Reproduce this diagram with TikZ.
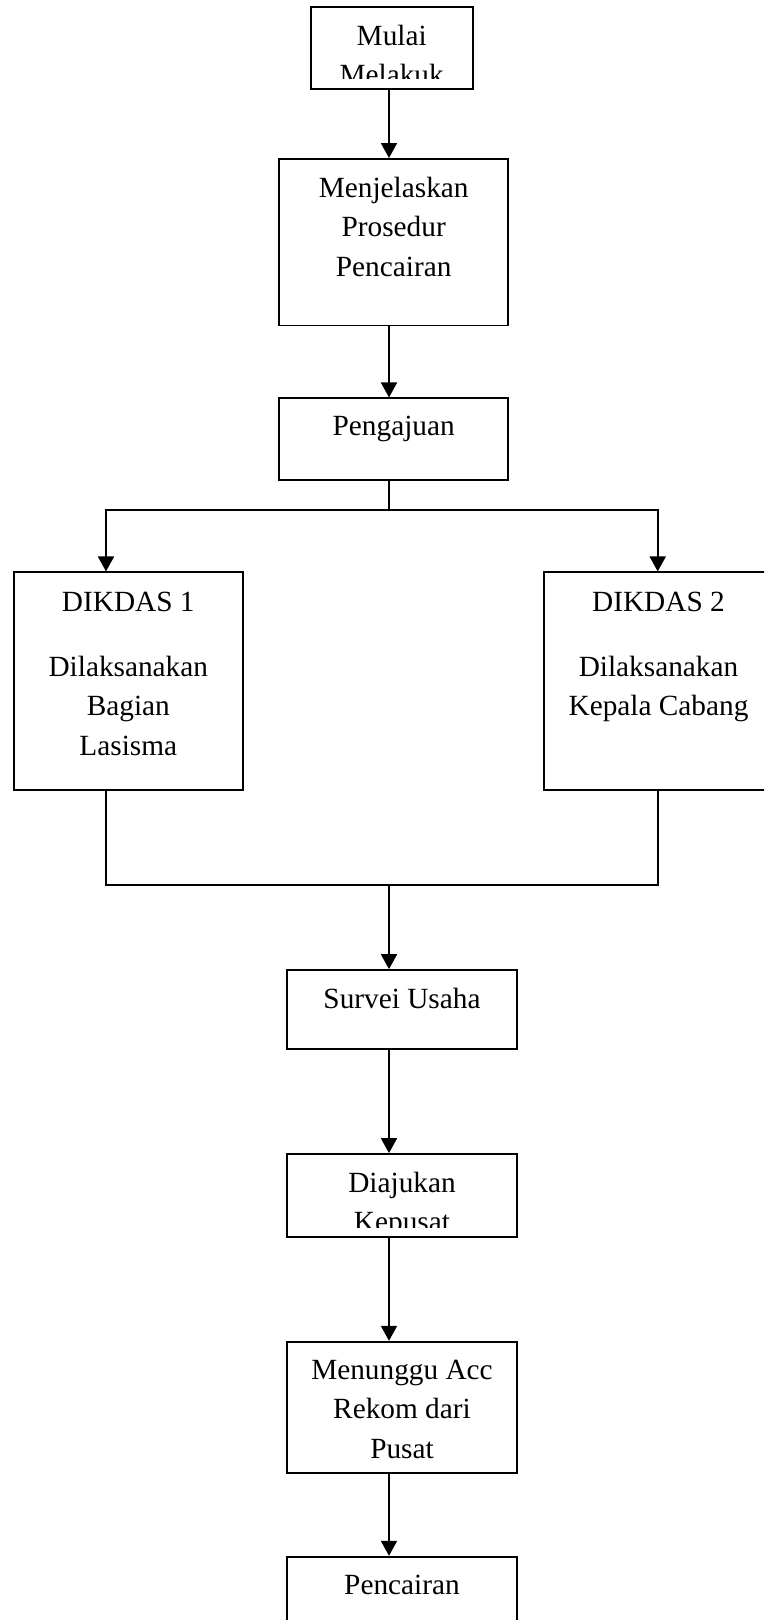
\documentclass[tikz,border=0pt]{standalone}
\usepackage{fontspec}
\setmainfont{Liberation Serif}
\usetikzlibrary{arrows.meta}

\begin{document}
\begin{tikzpicture}[x=1pt,y=-1pt,line width=1.8pt,>={Triangle[length=15pt,width=16pt]},
  box/.style={rectangle,draw,inner sep=0pt,minimum width=229.3pt},
  txt/.style={anchor=north,align=center,inner sep=0pt,font=\fontsize{29.3}{39.5}\selectfont}]

\useasboundingbox (0,0) rectangle (764,1620);
\clip (0,0) rectangle (764,1620);

\node[box,minimum width=162pt,minimum height=82.6pt] (mulai) at (391.7,48) {};
\node[box,minimum height=166.5pt] (jelas) at (393.7,242.2) {};
\node[box,minimum height=81.7pt] (aju) at (393.7,439.2) {};
\node[box,minimum width=228.7pt,minimum height=217.7pt] (dik1) at (128.3,681.2) {};
\node[box,minimum width=229pt,minimum height=217.7pt] (dik2) at (658.5,681.2) {};
\node[box,minimum height=79.3pt] (survei) at (402,1009.7) {};
\node[box,minimum height=83pt] (diaju) at (402,1195.5) {};
\node[box,minimum height=131.6pt] (tunggu) at (402,1407.5) {};
\node[box,minimum height=80.6pt] (cair) at (402,1597) {};

\begin{scope}
  \clip ([yshift=12pt]mulai.south west) rectangle (mulai.north east);
  \node[txt] (mulaiT) at ([yshift=-18pt]mulai.north) {Mulai\\Melakuk};
\end{scope}
\node[txt] (jelasT) at ([yshift=-18pt]jelas.north) {Menjelaskan\\Prosedur\\Pencairan};
\node[txt] (ajuT) at ([yshift=-18pt]aju.north) {Pengajuan};
\node[txt] (dik1T) at ([yshift=-19.5pt]dik1.north) {DIKDAS 1\\[25.5pt]Dilaksanakan\\Bagian\\Lasisma};
\node[txt] (dik2T) at ([yshift=-19.5pt]dik2.north) {DIKDAS 2\\[25.5pt]Dilaksanakan\\Kepala Cabang};
\node[txt] (surveiT) at ([yshift=-18pt]survei.north) {Survei Usaha};
\begin{scope}
  \clip ([yshift=10pt]diaju.south west) rectangle (diaju.north east);
  \node[txt] (diajuT) at ([yshift=-18pt]diaju.north) {Diajukan\\Kepusat};
\end{scope}
\node[txt] (tungguT) at ([yshift=-18pt]tunggu.north) {Menunggu Acc\\Rekom dari\\Pusat};
\node[txt] (cairT) at ([yshift=-18pt]cair.north) {Pencairan};

\coordinate (spine) at (389,0);
\coordinate (forkL) at (106,510);
\coordinate (forkR) at (657.7,510);
\coordinate (joinL) at (106,885);
\coordinate (joinR) at (657.7,885);

\draw[->] (mulai.south -| spine) -- (jelas.north -| spine);
\draw[->] (jelas.south -| spine) -- (aju.north -| spine);
\draw (aju.south -| spine) -- (spine |- forkL);
\draw[<->] (dik1.north -| forkL) -- (forkL) -- (forkR) -- (dik2.north -| forkR);
\draw (dik1.south -| joinL) -- (joinL) -- (joinR) -- (dik2.south -| joinR);
\draw[->] (spine |- joinL) -- (survei.north -| spine);
\draw[->] (survei.south -| spine) -- (diaju.north -| spine);
\draw[->] (diaju.south -| spine) -- (tunggu.north -| spine);
\draw[->] (tunggu.south -| spine) -- (cair.north -| spine);
\end{tikzpicture}
\end{document}
